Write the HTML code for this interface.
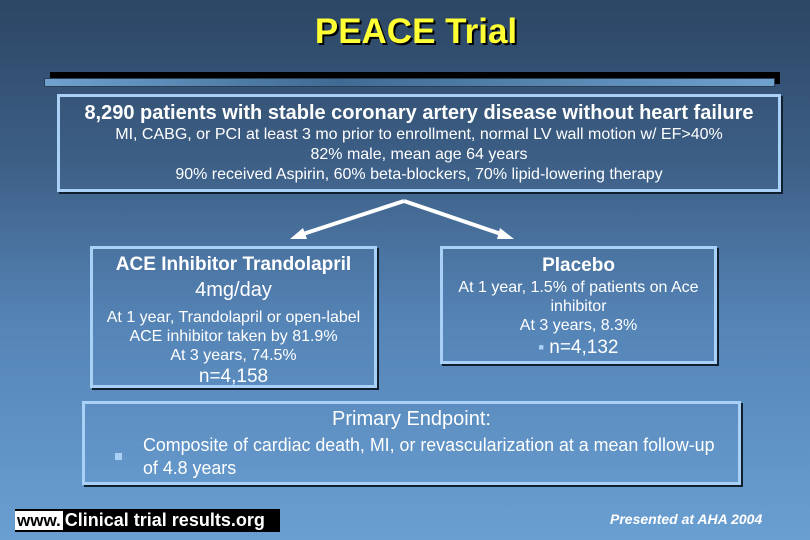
<!DOCTYPE html>
<html><head><meta charset="utf-8"><style>
body{margin:0;width:810px;height:540px;overflow:hidden;font-family:"Liberation Sans",Arial,sans-serif;}
#slide{position:relative;width:810px;height:540px;background:linear-gradient(180deg,#2c4664 0%,#3d5f86 30%,#5584b6 60%,#6a9fd2 100%);color:#fff;}
.abs{position:absolute;}
.box{position:absolute;border:3px solid #a9d0f7;box-shadow:2px 2px 0 #10202f;box-sizing:border-box;}
.c{text-align:center;white-space:nowrap;}
.n{display:inline-block;}
</style></head><body>
<div id="slide">
<div class="abs c" style="left:0;width:832px;top:12px;font-size:35px;font-weight:bold;color:#ffff33;text-shadow:2px 2px 0 #000;">PEACE Trial</div>
<div class="abs" style="left:50px;top:72px;width:730px;height:12px;background:#000;"></div>
<div class="abs" style="left:44px;top:78px;width:731px;height:9px;background:linear-gradient(90deg,#6fa2cf,#3f6a93 40%,#6fa2cf 100%);border:1px solid #2a3e55;box-sizing:border-box;"></div>

<div class="box" style="left:57px;top:94px;width:724px;height:98px;">
<div class="c" style="margin-top:4px;font-size:20px;font-weight:bold;line-height:24px;"><span class="n">8,290 patients with stable coronary artery disease without heart failure</span></div>
<div class="c" style="font-size:16px;line-height:20px;"><span class="n">MI, CABG, or PCI at least 3 mo prior to enrollment, normal LV wall motion w/ EF&gt;40%</span><br><span class="n">82% male, mean age 64 years</span><br><span class="n">90% received Aspirin, 60% beta-blockers, 70% lipid-lowering therapy</span></div>
</div>

<svg class="abs" style="left:0;top:0" width="810" height="540">
<g stroke="#fff" stroke-width="4" fill="#fff">
<line x1="404" y1="201" x2="300" y2="235"/><line x1="404" y1="201" x2="504" y2="235"/>
<polygon points="290,239 303,228 307,239" stroke="none"/>
<polygon points="514,239 500,228 497,239" stroke="none"/>
</g></svg>

<div class="box" style="left:90px;top:246px;width:287px;height:142px;">
<div class="c" style="margin-top:5px;font-size:19px;font-weight:bold;line-height:22px;"><span class="n">ACE Inhibitor Trandolapril</span></div>
<div class="c" style="font-size:20px;line-height:28px;"><span class="n">4mg/day</span></div>
<div class="c" style="margin-top:4px;font-size:16px;line-height:19px;"><span class="n">At 1 year, Trandolapril or open-label</span><br><span class="n">ACE inhibitor taken by 81.9%</span><br><span class="n">At 3 years, 74.5%</span></div>
<div class="c" style="font-size:19px;line-height:20px;margin-top:2px;"><span class="n">n=4,158</span></div>
</div>

<div class="box" style="left:440px;top:246px;width:277px;height:118px;">
<div class="c" style="margin-top:5px;font-size:19px;font-weight:bold;line-height:24px;"><span class="n">Placebo</span></div>
<div class="c" style="font-size:16px;line-height:19px;"><span class="n">At 1 year, 1.5% of patients on Ace</span><br><span class="n">inhibitor</span><br><span class="n">At 3 years, 8.3%</span></div>
<div class="c" style="font-size:19px;line-height:24px;"><span class="n"><span style="font-size:9px;color:#a9d0f7;vertical-align:3px;">■</span> n=4,132</span></div>
</div>

<div class="box" style="left:82px;top:401px;width:659px;height:84px;">
<div class="c" style="margin-top:3px;font-size:20px;line-height:24px;"><span class="n">Primary Endpoint:</span></div>
<div class="abs" style="left:30px;top:49px;width:7px;height:7px;background:#a9d0f7;"></div>
<div class="abs" style="left:58px;top:30px;font-size:18px;line-height:23px;white-space:nowrap;transform:scaleX(0.99);transform-origin:left;">Composite of cardiac death, MI, or revascularization at a mean follow-up<br>of 4.8 years</div>
</div>

<div class="abs" style="left:15px;top:509px;height:23px;width:265px;background:#000;white-space:nowrap;font-size:17px;font-weight:bold;line-height:23px;"><span style="background:#fff;color:#000;padding:0 2px;">www.</span><span style="display:inline-block;margin-left:2px;font-size:18px;">Clinical trial results.org</span></div>
<div class="abs" style="left:610px;top:511px;font-size:14px;font-weight:bold;font-style:italic;white-space:nowrap;">Presented at AHA 2004</div>
</div>
</body></html>
